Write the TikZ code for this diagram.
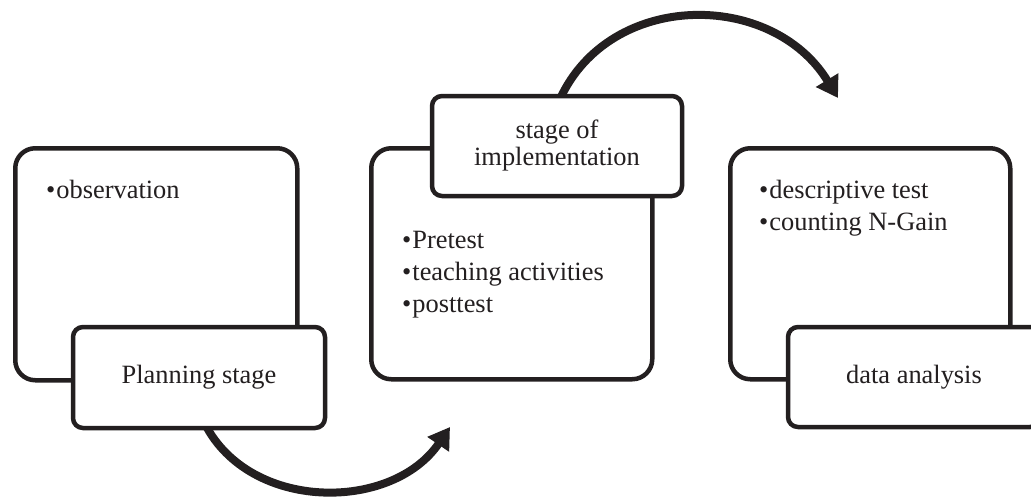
\documentclass[tikz,border=0pt]{standalone}
\usepackage{fontspec}
\setmainfont{Liberation Serif}
\usetikzlibrary{arrows.meta,calc}
\definecolor{ink}{HTML}{231F20}
\newcommand{\bul}{\textbullet\hspace{1pt}}
\begin{document}
\begin{tikzpicture}[x=1pt,y=-1pt,
  bigbox/.style={draw=ink, line width=4.5pt, rounded corners=20pt, fill=white, anchor=north west, inner sep=0pt},
  smallbox/.style={draw=ink, line width=4.5pt, rounded corners=10pt, fill=white, inner sep=0pt,
    font=\fontsize{26.4}{27}\selectfont, align=center, text=ink},
  txt/.style={font=\fontsize{26.4}{32}\selectfont, inner sep=0pt, anchor=base west, text=ink},
  bigarrow/.style={draw=ink, line width=8pt, -{Triangle[length=21pt,width=25pt]}}
]
\useasboundingbox (0,0) rectangle (1031,498);
\clip (0,0) rectangle (1031,498);

% big boxes
\node[bigbox, minimum width=282pt, minimum height=232pt] (b1) at (13,146) {};
\node[bigbox, minimum width=281pt, minimum height=231pt] (b2) at (369,146) {};
\node[bigbox, minimum width=280pt, minimum height=231pt] (b3) at (728,146) {};

% lists
\node[txt] (l1a) at (46,198) {\bul observation};
\node[txt] (l2a) at (402,248) {\bul Pretest};
\node[txt] (l2b) at (402,280) {\bul teaching activities};
\node[txt] (l2c) at (402,312) {\bul posttest};
\node[txt] (l3a) at (759,198) {\bul descriptive test};
\node[txt] (l3b) at (759,230) {\bul counting N-Gain};

% arrows (drawn beneath the small boxes)
\coordinate (e1) at (450,427);
\coordinate (e2) at (838,98);
\coordinate (s1) at (205,424);
\coordinate (s2) at (560,99);
\draw[bigarrow] (s1) .. controls (250,512) and (392,512) .. (e1);
\draw[bigarrow] (s2) .. controls (610,-10) and (772,-10) .. (e2);

% small boxes
\node[smallbox, minimum width=252pt, minimum height=101pt] (plan) at (199,377.5) {Planning stage};
\node[smallbox, minimum width=250pt, minimum height=100pt] (impl) at (557,146) {stage of\\implementation};
\node[smallbox, minimum width=252pt, minimum height=100pt] (data) at (914,377) {data analysis};
\end{tikzpicture}
\end{document}
